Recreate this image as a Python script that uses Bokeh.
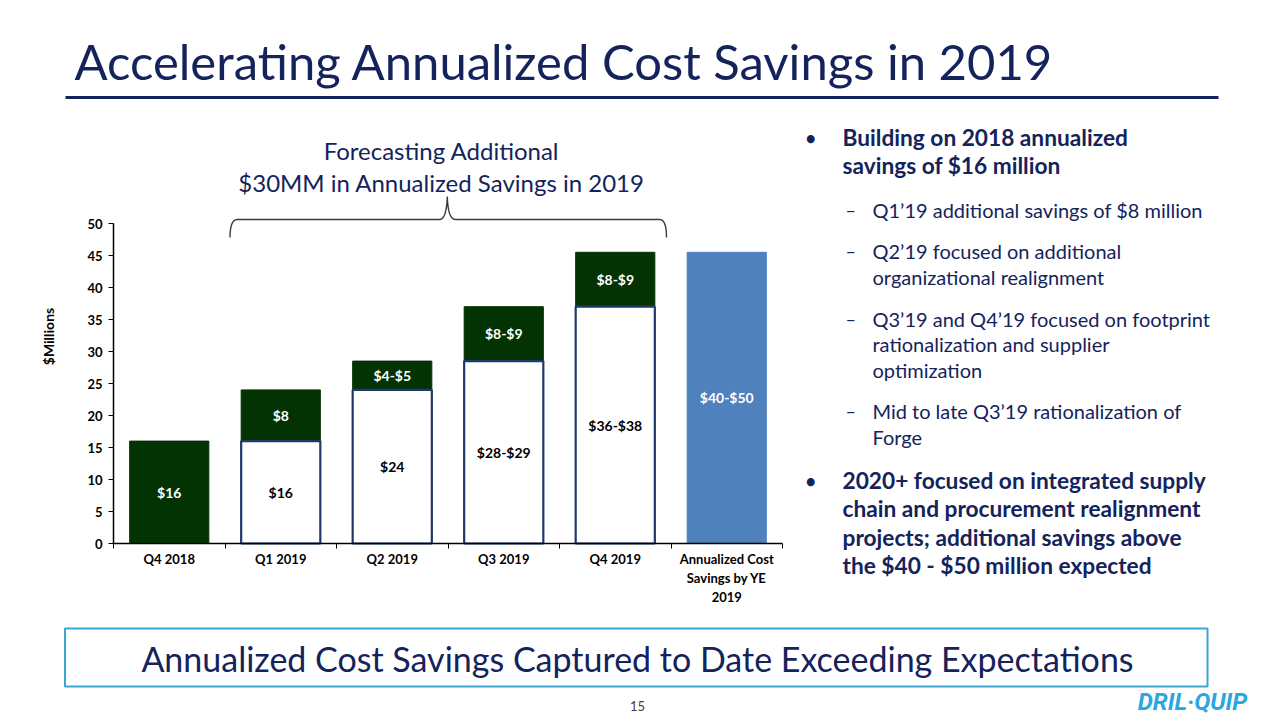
import numpy as np
from bokeh.plotting import figure
from bokeh.models import (Range1d, LinearAxis, FixedTicker, Label, BoxAnnotation, ColumnDataSource)
from bokeh.embed import file_html
from bokeh.resources import INLINE
from bokeh.core.properties import value

# ---------------- data ----------------
categories = ["Q4 2018", "Q1 2019", "Q2 2019", "Q3 2019", "Q4 2019",
              "Annualized Cost\nSavings by YE\n2019"]
captured = [0, 16, 24, 28.5, 37, 0]          # white (already captured run-rate)
added = [16, 8, 4.5, 8.5, 8.5, 0]            # green (additional savings)
ye_total = [0, 0, 0, 0, 0, 45.5]             # blue (annualized by YE 2019)
captured_labels = ["", "$16", "$24", "$28-$29", "$36-$38", ""]
added_labels = ["$16", "$8", "$4-$5", "$8-$9", "$8-$9", ""]
total_labels = ["", "", "", "", "", "$40-$50"]
y_ticks = [0, 5, 10, 15, 20, 25, 30, 35, 40, 45, 50]
y_max = 50

title_text = "Accelerating Annualized Cost Savings in 2019"
forecast_lines = ["Forecasting Additional", "$30MM in Annualized Savings in 2019"]
bullet1 = ["Building on 2018 annualized", "savings of $16 million"]
subbullets = [["Q1\u201919 additional savings of $8 million"],
              ["Q2\u201919 focused on additional", "organizational realignment"],
              ["Q3\u201919 and Q4\u201919 focused on footprint", "rationalization and supplier", "optimization"],
              ["Mid to late Q3\u201919 rationalization of", "Forge"]]
bullet2 = ["2020+ focused on integrated supply", "chain and procurement realignment",
           "projects; additional savings above", "the $40 - $50 million expected"]
box_text = "Annualized Cost Savings Captured to Date Exceeding Expectations"

NAVY = "#14235B"
GREEN = "#033303"
BLUE = "#4F81BD"
FONT = "Lato"

n_cat = len(categories)
centers = [i + 0.5 for i in range(n_cat)]
boundaries = [i for i in range(n_cat + 1)]

# ---------------- page geometry (one figure, frame = whole canvas) ----------------
W, H = 1280, 720
PLOT_L, PLOT_R, PLOT_T, PLOT_B = 113, 782, 223, 543   # chart area on the slide
px_cat = (PLOT_R - PLOT_L) / n_cat
px_unit = (PLOT_B - PLOT_T) / y_max

p = figure(width=W, height=H,
           x_range=Range1d(-PLOT_L / px_cat, (W - PLOT_L) / px_cat),
           y_range=Range1d(-(H - PLOT_B) / px_unit, PLOT_B / px_unit),
           x_axis_location=None, y_axis_location=None, toolbar_location=None,
           output_backend="svg", min_border=0)
p.outline_line_color = None
p.xgrid.visible = False
p.ygrid.visible = False
p.background_fill_color = "white"
p.border_fill_color = "white"
# slide-pixel coordinates for decorations (y downward)
p.extra_x_ranges = {"px": Range1d(0, W)}
p.extra_y_ranges = {"px": Range1d(H, 0)}

# axes drawn at the chart origin
xaxis = LinearAxis(fixed_location=0, bounds=(0, n_cat),
                   ticker=FixedTicker(ticks=centers, minor_ticks=boundaries),
                   major_label_overrides={c: t for c, t in zip(centers, categories)},
                   axis_line_color="black", axis_line_width=1.5,
                   major_tick_line_color=None, major_tick_out=0, major_tick_in=0,
                   minor_tick_line_color="black", minor_tick_out=5, minor_tick_in=0,
                   major_label_standoff=2,
                   major_label_text_font=FONT, major_label_text_font_style="bold",
                   major_label_text_font_size="13px", major_label_text_color="black")
p.add_layout(xaxis, "below")
yaxis = LinearAxis(fixed_location=0, bounds=(0, y_max), ticker=FixedTicker(ticks=y_ticks),
                   major_tick_out=5, major_tick_in=0,
                   minor_tick_line_color=None, axis_line_color="black", axis_line_width=1.5,
                   major_tick_line_color="black", major_label_standoff=6,
                   major_label_text_font=FONT, major_label_text_font_style="bold",
                   major_label_text_font_size="13px", major_label_text_color="black")
p.add_layout(yaxis, "left")

# bars
cap_idx = [i for i, v in enumerate(captured) if v > 0]
add_idx = [i for i, v in enumerate(added) if v > 0]
tot_idx = [i for i, v in enumerate(ye_total) if v > 0]

src_cap = ColumnDataSource(dict(x=[centers[i] for i in cap_idx],
                                top=[captured[i] for i in cap_idx],
                                mid=[captured[i] / 2 for i in cap_idx],
                                lab=[captured_labels[i] for i in cap_idx]))
src_add = ColumnDataSource(dict(x=[centers[i] for i in add_idx],
                                bottom=[captured[i] for i in add_idx],
                                top=[captured[i] + added[i] for i in add_idx],
                                mid=[captured[i] + added[i] / 2 for i in add_idx],
                                lab=[added_labels[i] for i in add_idx]))
src_tot = ColumnDataSource(dict(x=[centers[i] for i in tot_idx],
                                top=[ye_total[i] for i in tot_idx],
                                mid=[ye_total[i] / 2 for i in tot_idx],
                                lab=[total_labels[i] for i in tot_idx]))

BW = 0.71
p.vbar(x="x", bottom="bottom", top="top", width=BW, source=src_add,
       fill_color=GREEN, line_color=GREEN, line_width=1)
p.vbar(x="x", bottom=0, top="top", width=BW, source=src_cap,
       fill_color="white", line_color="#1F3A68", line_width=2.2)
p.vbar(x="x", bottom=0, top="top", width=BW, source=src_tot,
       fill_color=BLUE, line_color=BLUE, line_width=1)

txt_kw = dict(text="lab", text_align="center", text_baseline="middle",
              text_font=value(FONT), text_font_style="bold", text_font_size="14px")
p.text(x="x", y="mid", source=src_cap, text_color="black", **txt_kw)
p.text(x="x", y="mid", source=src_add, text_color="white", **txt_kw)
p.text(x="x", y="mid", source=src_tot, text_color="white", **txt_kw)


# ---------------- slide decorations (slide px coords) ----------------
def lab(x, y, text, size, color=NAVY, style="normal", align="left", font=FONT, angle=0.0):
    p.add_layout(Label(x=x, y=y, text=text, x_range_name="px", y_range_name="px",
                       text_font=font, text_font_size=f"{size}px", text_color=color,
                       text_font_style=style, text_align=align, text_baseline="middle",
                       angle=angle))


# title + rule
lab(74, 60, title_text, 49)
p.add_layout(BoxAnnotation(left=65, right=1218, top=95.5, bottom=98.5, x_range_name="px",
                           y_range_name="px", fill_color=NAVY, fill_alpha=1, line_alpha=0))

# forecast heading + brace
lab(441, 150, forecast_lines[0], 24, align="center")
lab(441, 182, forecast_lines[1], 24, align="center")


def qbez(p0, p1, p2, n=12):
    t = np.linspace(0, 1, n)[:, None]
    pts = (1 - t) ** 2 * np.array(p0) + 2 * (1 - t) * t * np.array(p1) + t ** 2 * np.array(p2)
    return pts.tolist()


path = []
path += qbez((229.5, 237), (229.5, 219), (237, 219))
path += qbez((439, 219), (446, 219), (446.8, 196))
path += qbez((446.8, 196), (447.5, 219), (455, 219))
path += qbez((659, 219), (666, 219), (666, 237))
p.line([q[0] for q in path], [q[1] for q in path], x_range_name="px", y_range_name="px",
       line_color="#3A3A3A", line_width=1.4)

# y-axis title
lab(48, 336, "$Millions", 14, color="black", style="bold", align="center", angle=np.pi / 2)

# right column
lab(805, 137, "\u2022", 18, style="bold")
lab(842, 137, bullet1[0], 22.7, style="bold")
lab(842, 165, bullet1[1], 22.7, style="bold")
sub_y = [[209], [250, 276], [318, 343, 369], [410, 436]]
for lines, ys in zip(subbullets, sub_y):
    lab(845, ys[0], "\u2013", 18)
    for t, yy in zip(lines, ys):
        lab(872, yy, t, 20)
b2_y = [480, 508, 537, 565]
lab(805, b2_y[0], "\u2022", 18, style="bold")
for t, yy in zip(bullet2, b2_y):
    lab(842, yy, t, 22.7, style="bold")

# bottom call-out box, page number, logo
p.add_layout(BoxAnnotation(left=64.5, right=1207, top=628, bottom=686, x_range_name="px",
                           y_range_name="px", fill_color="white", fill_alpha=1,
                           line_color="#3DA5D5", line_width=2, line_alpha=1))
lab(637, 658, box_text, 34, align="center")
lab(637, 705, "15", 13, color="#404040", align="center")
lab(1192, 701, "DRIL\u00b7QUIP", 24, color="#2AA6E0", style="bold italic",
    align="center", font="Roboto")

open("out.html", "w").write(file_html(p, INLINE))
